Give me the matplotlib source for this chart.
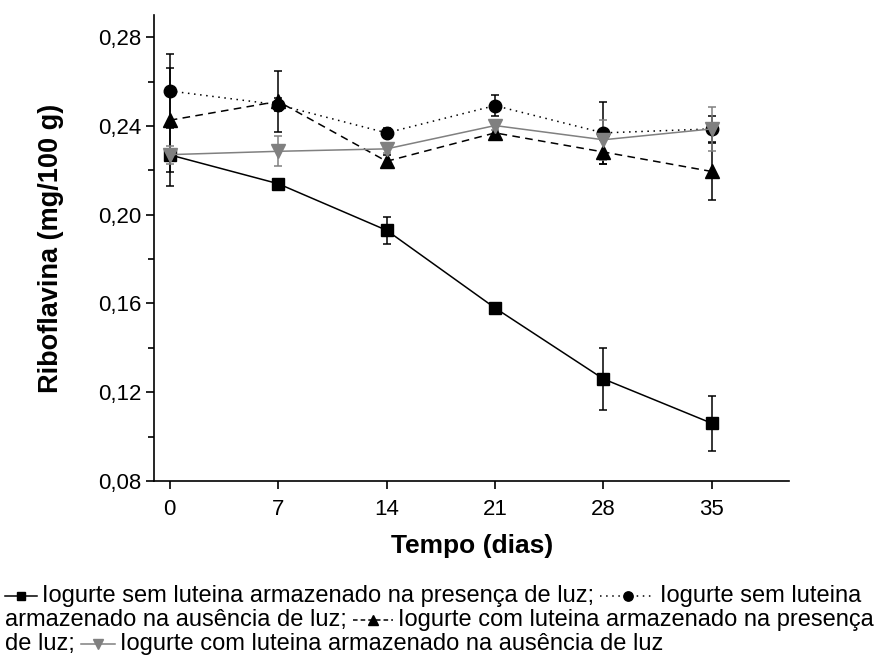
import matplotlib
matplotlib.use("Agg")
import matplotlib.pyplot as plt
from matplotlib.lines import Line2D
from matplotlib.ticker import MultipleLocator, FuncFormatter

plt.rcParams['font.family'] = ['Liberation Sans', 'DejaVu Sans']

# storage time (days)
dias = [0, 7, 14, 21, 28, 35]

# riboflavin (mg/100 g) and standard deviations
sem_lut_luz = [0.227, 0.214, 0.193, 0.158, 0.126, 0.106]
sem_lut_luz_dp = [0.014, 0.002, 0.006, 0.001, 0.014, 0.0125]

sem_lut_escuro = [0.2558, 0.2496, 0.2369, 0.2492, 0.2369, 0.2387]
sem_lut_escuro_dp = [0.0167, 0.003, 0.002, 0.0046, 0.014, 0.006]

com_lut_luz = [0.2426, 0.2511, 0.2241, 0.2369, 0.2283, 0.2195]
com_lut_luz_dp = [0.0235, 0.0136, 0.003, 0.0034, 0.0055, 0.0127]

com_lut_escuro = [0.2271, 0.2286, 0.2297, 0.2402, 0.2338, 0.2387]
com_lut_escuro_dp = [0.004, 0.0068, 0.002, 0.002, 0.009, 0.010]

legenda = [
    "Iogurte sem luteina armazenado na presença de luz;",
    "Iogurte sem luteina armazenado na ausência de luz;",
    "Iogurte com luteina armazenado na presença de luz;",
    "Iogurte com luteina armazenado na ausência de luz",
]

cinza = '#808080'
estilos = [
    dict(color='black', ls='-', marker='s', ms=8.5),
    dict(color='black', ls=(0, (1, 3)), marker='o', ms=9),
    dict(color='black', ls=(0, (5, 3.5)), marker='^', ms=10),
    dict(color=cinza, ls='-', marker='v', ms=10),
]
# shorter patterns for the caption samples
estilos_amostra = ['-', (0, (1, 3)), (0, (3, 2)), '-']
series = [(sem_lut_luz, sem_lut_luz_dp), (sem_lut_escuro, sem_lut_escuro_dp),
          (com_lut_luz, com_lut_luz_dp), (com_lut_escuro, com_lut_escuro_dp)]

fig = plt.figure(figsize=(8.75, 6.56), dpi=100)
ax = fig.add_axes([0.1763, 0.2668, 0.7257, 0.7102])

for (y, dp), st in zip(series, estilos):
    ax.errorbar(dias, y, yerr=dp, color=st['color'], ls=st['ls'], lw=1.1,
                marker=st['marker'], ms=st['ms'], mfc=st['color'], mec=st['color'],
                capsize=3, elinewidth=1.1, capthick=1.1)

ax.set_xlim(-1, 40)
ax.set_ylim(0.08, 0.29)
ax.set_xticks(dias)
ax.yaxis.set_major_locator(MultipleLocator(0.04))
ax.yaxis.set_minor_locator(MultipleLocator(0.02))
ax.yaxis.set_major_formatter(FuncFormatter(lambda v, p: f"{v:.2f}".replace('.', ',')))
ax.tick_params(axis='both', which='major', direction='out', length=6, width=1.2,
               labelsize=16)
ax.tick_params(axis='x', which='major', pad=7)
ax.tick_params(axis='y', which='minor', direction='out', length=4, width=1.2)
for s in ['top', 'right']:
    ax.spines[s].set_visible(False)
for s in ['left', 'bottom']:
    ax.spines[s].set_linewidth(1.2)

ax.set_xlabel('Tempo (dias)', fontsize=19, fontweight='bold', labelpad=10)
ax.set_ylabel('Riboflavina (mg/100 g)', fontsize=19.5, fontweight='bold', labelpad=24)

# caption with inline line/marker samples
fig.canvas.draw()
renderer = fig.canvas.get_renderer()
W, H = fig.bbox.width, fig.bbox.height
fonte = dict(fontsize=17, family=['Liberation Sans', 'DejaVu Sans'])


def amostra(x, y, i, largura):
    st = estilos[i]
    yc = y + 6
    fig.add_artist(Line2D([x, x + largura], [yc, yc], transform=None,
                          color=st['color'], ls=estilos_amostra[i], lw=1.1))
    fig.add_artist(Line2D([x + largura / 2], [yc], transform=None, ls='none',
                          color=st['color'], marker=st['marker'], ms=st['ms'] * 0.75))
    return x + largura


larguras = [32, 55, 40, 34]


def linha(y, pecas):
    x = 5
    for p in pecas:
        if isinstance(p, int):
            x = amostra(x, y, p, larguras[p]) + 5
        else:
            t = fig.text(x / W, y / H, p, va='baseline', **fonte)
            x += t.get_window_extent(renderer).width + 6


linha(H - 602, [0, legenda[0], 1, "Iogurte sem luteina"])
linha(H - 626, ["armazenado na ausência de luz;", 2, legenda[2].replace(" de luz;", "")])
linha(H - 650, ["de luz;", 3, legenda[3]])

fig.savefig('out.png', dpi=100)
